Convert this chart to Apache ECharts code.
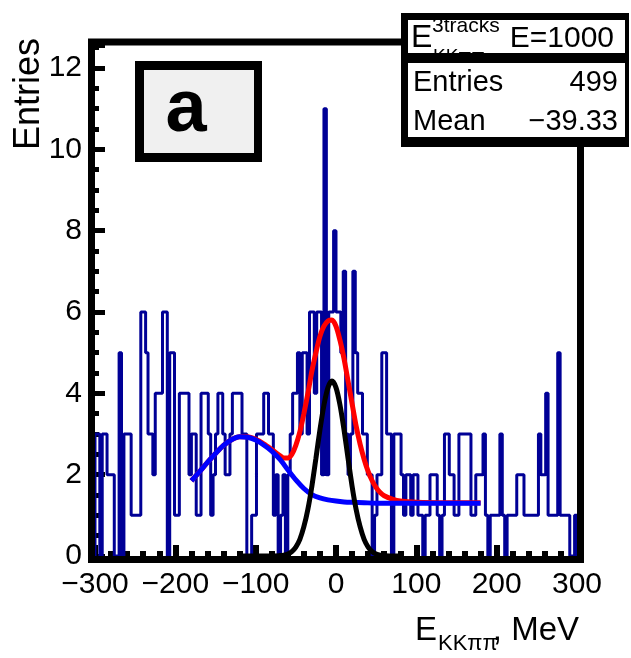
<!DOCTYPE html>
<html>
<head>
<meta charset="utf-8">
<script src="https://cdn.jsdelivr.net/npm/echarts@6.0.0/dist/echarts.min.js"></script>
<style>
html,body{margin:0;padding:0;background:#fff;}
#chart{width:631px;height:658px;}
</style>
</head>
<body>
<div id="chart"></div>
<script>
// ---- data ----
const binStart = -300;
const binWidth = 3;
const counts = [
3,3,0,3,3,2,2,2,0,0,
5,0,3,3,3,1,1,1,1,6,
6,5,3,3,2,4,4,4,6,6,
0,5,5,1,1,4,4,4,4,2,
3,3,1,1,4,4,4,3,1,2,
3,4,4,3,2,2,3,4,4,4,
4,3,3,0,0,1,1,3,3,3,
4,4,3,3,1,2,0,1,2,0,
2,3,4,4,5,3,5,5,3,6,
6,4,6,6,2,11,2,6,6,8,
6,6,5,7,3,2,3,7,5,4,
4,3,3,2,2,0,1,2,2,5,
5,3,3,0,3,3,3,2,1,2,
2,1,2,2,1,1,0,1,1,2,
2,2,1,0,1,3,3,2,2,1,
1,3,3,3,3,3,1,1,2,2,
2,3,1,0,1,1,1,1,3,1,
0,1,1,1,1,2,2,2,1,1,
1,1,1,1,3,2,2,4,1,1,
1,1,5,1,1,1,1,0,0,1
];
// total fit (red)
const redX = [-180,-170,-160,-150,-140,-130,-120,-110,-100,-90,-80,-70,-65,-60,-55,-50,-45,-40,-35,-30,-25,-20,-15,-10,-5,0,5,10,15,20,25,30,35,40,45,50,55,60,70,80,100,140,180];
const redY = [1.85,2.07,2.3,2.52,2.72,2.86,2.93,2.93,2.87,2.76,2.62,2.47,2.41,2.41,2.5,2.72,3.05,3.5,4.0,4.55,5.0,5.4,5.65,5.78,5.8,5.65,5.3,4.85,4.3,3.75,3.2,2.75,2.38,2.08,1.85,1.68,1.56,1.48,1.4,1.35,1.32,1.31,1.31];
// background (blue)
const blueX = [-180,-170,-160,-150,-140,-130,-120,-110,-100,-90,-80,-70,-60,-50,-40,-30,-20,-10,0,10,20,35,50,70,100,140,180];
const blueY = [1.85,2.07,2.3,2.52,2.72,2.86,2.93,2.92,2.85,2.73,2.58,2.38,2.12,1.87,1.66,1.51,1.43,1.38,1.35,1.33,1.32,1.31,1.3,1.3,1.3,1.3,1.3];
// signal (black)
const blackX = [-120,-100,-80,-70,-65,-60,-55,-50,-45,-40,-35,-30,-25,-20,-15,-10,-5,0,5,10,15,20,25,30,35,40,45,50,55,60,70,80];
const blackY = [0,0,0,0.01,0.02,0.05,0.11,0.22,0.41,0.72,1.15,1.72,2.4,3.1,3.71,4.14,4.3,4.14,3.71,3.1,2.4,1.72,1.15,0.72,0.41,0.22,0.11,0.05,0.02,0.01,0,0];
const xTicks = [-300,-200,-100,0,100,200,300];
const statsTitle = 'E=1000';
const statsEntries = '499';
const statsMean = '\u221239.33';

// ---- build ----
const histPts = [[binStart, 0]];
counts.forEach((c, i) => histPts.push([binStart + i * binWidth, c]));
const xEnd = binStart + counts.length * binWidth;
histPts.push([xEnd, counts[counts.length - 1]]);
histPts.push([xEnd, 0]);
const zip = (a, b) => a.map((v, i) => [v, b[i]]);

const FONT = 'Liberation Sans, Arial, sans-serif';
const chart = echarts.init(document.getElementById('chart'), null, {renderer: 'canvas'});

const GL = 95, GT = 45.6, GW = 482, GH = 510.4;

chart.setOption({
  animation: false,
  backgroundColor: '#fff',
  grid: {left: GL, top: GT, width: GW, height: GH, containLabel: false},
  xAxis: {
    type: 'value', min: xTicks[0], max: xTicks[xTicks.length - 1], interval: 100,
    axisLine: {show: false, onZero: false},
    splitLine: {show: false},
    axisTick: {show: true, inside: true, length: 11, lineStyle: {color: '#000', width: 6}},
    minorTick: {show: true, splitNumber: 5, length: 5, lineStyle: {color: '#000', width: 6}},
    axisLabel: {
      margin: 14, color: '#000', fontSize: 30, fontFamily: FONT,
      formatter: v => (v < 0 ? '\u2212' + Math.abs(v) : String(v))
    }
  },
  yAxis: {
    type: 'value', min: 0, max: 12.55, interval: 2,
    axisLine: {show: false, onZero: false},
    splitLine: {show: false},
    axisTick: {show: true, inside: true, length: 10, lineStyle: {color: '#000', width: 5}},
    minorTick: {show: true, splitNumber: 4, length: 4, lineStyle: {color: '#000', width: 5}},
    axisLabel: {margin: 13, color: '#000', fontSize: 30, fontFamily: FONT, showMaxLabel: false,
      formatter: v => (Math.abs(v - Math.round(v)) < 1e-6 ? String(v) : '')}
  },
  series: [
    {type: 'line', data: histPts, step: 'end', showSymbol: false, symbol: 'none',
     lineStyle: {color: '#000096', width: 3}, clip: true, z: 2},
    {type: 'line', data: zip(redX, redY), smooth: 0.3, showSymbol: false, symbol: 'none',
     lineStyle: {color: '#ff0000', width: 5}, z: 3},
    {type: 'line', data: zip(blueX, blueY), smooth: 0.3, showSymbol: false, symbol: 'none',
     lineStyle: {color: '#0000ff', width: 5}, z: 4},
    {type: 'line', data: zip(blackX, blackY), smooth: 0.3, showSymbol: false, symbol: 'none',
     lineStyle: {color: '#000000', width: 5}, z: 5}
  ],
  graphic: [
    // plot frame
    {type: 'rect', z: 100, silent: true,
     shape: {x: GL - 3.5, y: GT - 3.5, width: GW + 7, height: GH + 7},
     style: {fill: 'none', stroke: '#000', lineWidth: 7}},
    // label box "a"
    {type: 'rect', z: 100, shape: {x: 135, y: 61, width: 127, height: 101}, style: {fill: '#000'}},
    {type: 'rect', z: 101, shape: {x: 144, y: 70, width: 110, height: 83}, style: {fill: '#f0f0f0'}},
    {type: 'text', z: 102, style: {x: 186, y: 111, text: 'a', fontSize: 74, fontWeight: 'bold', fontFamily: FONT,
      fill: '#000', textAlign: 'center', textVerticalAlign: 'middle'}},
    // stats box background
    {type: 'rect', z: 110, shape: {x: 401, y: 13, width: 228, height: 134}, style: {fill: '#fff'}},
    {type: 'text', z: 111, style: {x: 411, y: 38, text: 'E', fontSize: 32, fontFamily: FONT, fill: '#000', textVerticalAlign: 'middle'}},
    {type: 'text', z: 111, style: {x: 432, y: 26, text: '3tracks', fontSize: 21, fontFamily: FONT, fill: '#000', textVerticalAlign: 'middle'}},
    {type: 'text', z: 111, style: {x: 433, y: 57, text: 'KK\u03c0\u03c0', fontSize: 19, fontFamily: FONT, fill: '#000', textVerticalAlign: 'middle'}},
    {type: 'text', z: 111, style: {x: 614, y: 39, text: statsTitle, fontSize: 30, fontFamily: FONT, fill: '#000', textAlign: 'right', textVerticalAlign: 'middle'}},
    {type: 'text', z: 111, style: {x: 413, y: 83, text: 'Entries', fontSize: 29, fontFamily: FONT, fill: '#000', textVerticalAlign: 'middle'}},
    {type: 'text', z: 111, style: {x: 618, y: 83, text: statsEntries, fontSize: 29, fontFamily: FONT, fill: '#000', textAlign: 'right', textVerticalAlign: 'middle'}},
    {type: 'text', z: 111, style: {x: 413, y: 122, text: 'Mean', fontSize: 29, fontFamily: FONT, fill: '#000', textVerticalAlign: 'middle'}},
    {type: 'text', z: 111, style: {x: 618, y: 122, text: statsMean, fontSize: 29, fontFamily: FONT, fill: '#000', textAlign: 'right', textVerticalAlign: 'middle'}},
    // stats box borders
    {type: 'rect', z: 112, shape: {x: 401, y: 13, width: 228, height: 7}, style: {fill: '#000'}},
    {type: 'rect', z: 112, shape: {x: 401, y: 53, width: 228, height: 10}, style: {fill: '#000'}},
    {type: 'rect', z: 112, shape: {x: 401, y: 137, width: 228, height: 10}, style: {fill: '#000'}},
    {type: 'rect', z: 112, shape: {x: 401, y: 13, width: 7, height: 134}, style: {fill: '#000'}},
    {type: 'rect', z: 112, shape: {x: 625, y: 13, width: 4, height: 134}, style: {fill: '#000'}},
    // axis titles
    {type: 'text', z: 100, rotation: Math.PI / 2, x: 29, y: 38,
     style: {x: 0, y: 0, text: 'Entries', fontSize: 36, fontFamily: FONT, fill: '#000', textAlign: 'right', textVerticalAlign: 'middle'}},
    {type: 'text', z: 100, style: {x: 415, y: 631, text: 'E', fontSize: 33, fontFamily: FONT, fill: '#000', textVerticalAlign: 'middle'}},
    {type: 'text', z: 100, style: {x: 438, y: 644, text: 'KK\u03c0\u03c0', fontSize: 22, fontFamily: FONT, fill: '#000', textVerticalAlign: 'middle'}},
    {type: 'text', z: 100, style: {x: 579, y: 631, text: ', MeV', fontSize: 33, fontFamily: FONT, fill: '#000', textAlign: 'right', textVerticalAlign: 'middle'}}
  ]
});
</script>
</body>
</html>
